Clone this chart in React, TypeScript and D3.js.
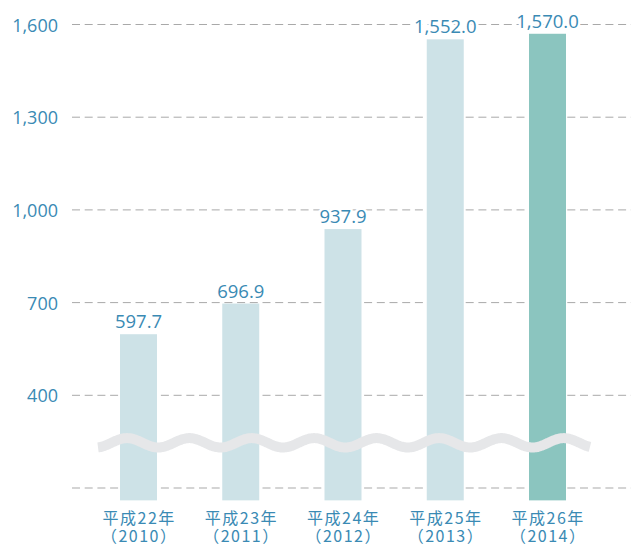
import React from "react";
import * as d3 from "d3";

const categories = ["平成22年", "平成23年", "平成24年", "平成25年", "平成26年"];
const years = ["（2010）", "（2011）", "（2012）", "（2013）", "（2014）"];
const values = [597.7, 696.9, 937.9, 1552.0, 1570.0];
const valueLabels = ["597.7", "696.9", "937.9", "1,552.0", "1,570.0"];
const yTicks = [100, 400, 700, 1000, 1300, 1600];
const yTickLabels = ["", "400", "700", "1,000", "1,300", "1,600"];

const W = 631;
const H = 544;
const BLUE = "#3a8ab4";

export default function App() {
  const y = d3.scaleLinear().domain([100, 1600]).range([488, 24.5]);
  const x = d3.scalePoint<string>().domain(categories).range([138.5, 547.5]);
  const bw = 37;
  const baseVal = 60;

  const waveX = d3.range(98, 590.5, 1);
  const wave = d3
    .line<number>()
    .x((d) => d)
    .y((d) => 442.8 - 4.7 * Math.cos(((d - 127) / 62.4) * 2 * Math.PI))
    .curve(d3.curveBasis)(waveX);

  return (
    <svg
      width={W}
      height={H}
      style={{ position: "absolute", left: 0, top: 0, background: "#fff" }}
    >
      {yTicks.map((t, i) => (
        <g key={t}>
          <line
            x1={72}
            x2={W}
            y1={y(t)}
            y2={y(t)}
            stroke="#a9a9a9"
            strokeWidth={1}
            strokeDasharray="8,4.7"
          />
          <text
            x={58}
            y={y(t) + 7}
            textAnchor="end"
            fontFamily="'Open Sans', sans-serif"
            fontSize={18}
            fill={BLUE}
          >
            {yTickLabels[i]}
          </text>
        </g>
      ))}
      {categories.map((c, i) => (
        <rect
          key={c}
          x={x(c)! - bw / 2}
          width={bw}
          y={y(values[i])}
          height={y(baseVal) - y(values[i])}
          fill={i === categories.length - 1 ? "#8bc5bf" : "#cde2e7"}
        />
      ))}
      <path d={wave!} fill="none" stroke="#e6e7e9" strokeWidth={10} />
      {categories.map((c, i) => (
        <text
          key={c}
          x={x(c)!}
          y={y(values[i]) - 6}
          textAnchor="middle"
          fontFamily="'Open Sans', sans-serif"
          fontSize={18.5}
          fill={BLUE}
          stroke="#fff"
          strokeWidth={5}
          paintOrder="stroke"
        >
          {valueLabels[i]}
        </text>
      ))}
      {categories.map((c, i) => (
        <text
          key={c}
          textAnchor="middle"
          fontFamily="'Noto Sans CJK JP', sans-serif"
          fontSize={16}
          letterSpacing={1.5}
          fill={BLUE}
        >
          <tspan x={x(c)! + 0.75} y={524}>
            {c}
          </tspan>
          <tspan x={x(c)! + 0.75} y={542}>
            {years[i]}
          </tspan>
        </text>
      ))}
    </svg>
  );
}
